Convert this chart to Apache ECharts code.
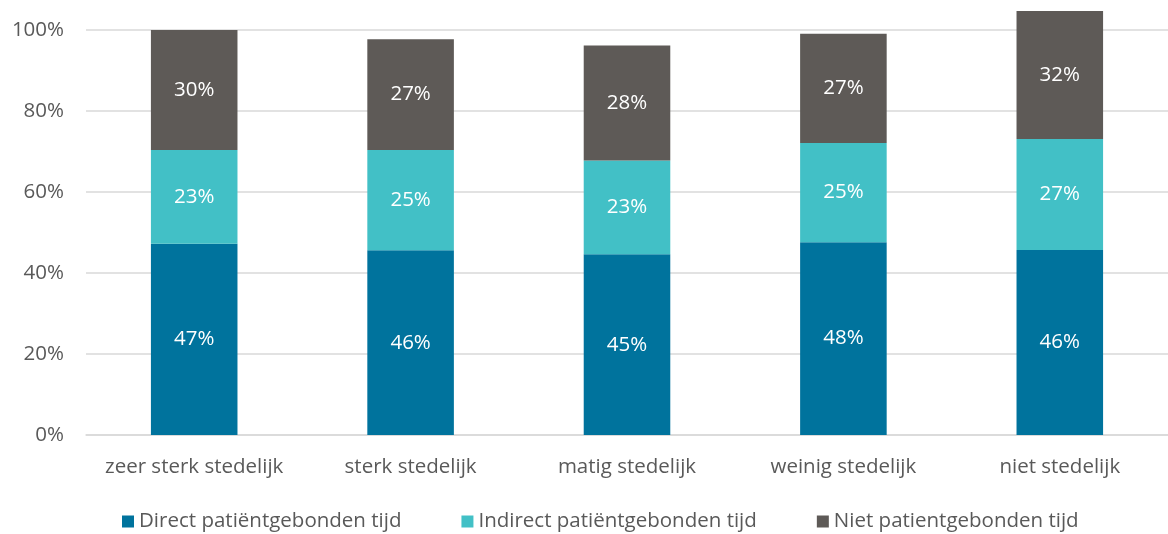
<!DOCTYPE html>
<html>
<head>
<meta charset="utf-8">
<script src="https://cdn.jsdelivr.net/npm/echarts@6/dist/echarts.min.js"></script>
<style>
html,body{margin:0;padding:0;background:#fff;}
#c{width:1168px;height:534px;}
</style>
</head>
<body>
<div id="c"></div>
<script>
const categories = ['zeer sterk stedelijk','sterk stedelijk','matig stedelijk','weinig stedelijk','niet stedelijk'];
const seriesNames = ['Direct patiëntgebonden tijd','Indirect patiëntgebonden tijd','Niet patientgebonden tijd'];
const direct = [47.2, 45.6, 44.6, 47.6, 45.7];
const indirect = [23.2, 24.8, 23.2, 24.5, 27.4];
const niet = [29.6, 27.3, 28.4, 27.0, 31.6];
const yTicks = [0, 20, 40, 60, 80, 100];

const colors = ['#00739D', '#42C0C6', '#5E5A57'];
const font = 'Open Sans';
const fs = 20.5;
const chart = echarts.init(document.getElementById('c'), null, {renderer:'canvas'});
const mk = (name, data, color) => ({
  name, type:'bar', stack:'total', data, clip:false,
  barCategoryGap:'60%',
  itemStyle:{color},
  label:{show:true, position:'inside', color:'#fff', fontFamily:font, fontSize:fs,
    formatter:p=>Math.round(p.value)+'%'}
});
chart.setOption({
  animation:false,
  textStyle:{fontFamily:font},
  grid:{left:86, top:30, width:1087.5, height:405, containLabel:false},
  legend:{
    left:117, top:506, itemWidth:12, itemHeight:12, itemGap:60,
    icon:'rect',
    textStyle:{fontFamily:font, fontSize:fs, color:'#595959'},
    data:seriesNames
  },
  xAxis:{
    type:'category', data:categories,
    axisLine:{show:true, lineStyle:{color:'#D9D9D9', width:1.5}},
    axisTick:{show:false},
    axisLabel:{fontFamily:font, fontSize:fs, color:'#595959', margin:22, interval:0, hideOverlap:false}
  },
  yAxis:{
    type:'value', min:yTicks[0], max:yTicks[yTicks.length-1], interval:20,
    axisLine:{show:false}, axisTick:{show:false},
    splitLine:{lineStyle:{color:'#D9D9D9', width:1.5}},
    axisLabel:{fontFamily:font, fontSize:fs, color:'#595959', margin:22, formatter:v=>v+'%'}
  },
  series:[mk(seriesNames[0], direct, colors[0]), mk(seriesNames[1], indirect, colors[1]), mk(seriesNames[2], niet, colors[2])]
});
</script>
</body>
</html>
